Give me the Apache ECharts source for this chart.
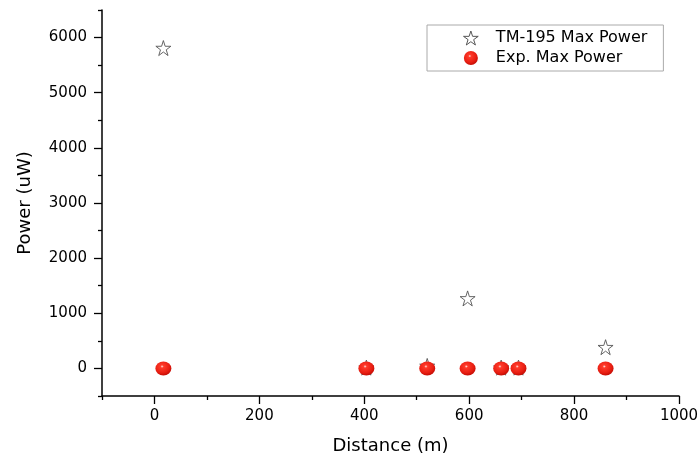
<!DOCTYPE html>
<html><head><meta charset="utf-8">
<script src="https://cdn.jsdelivr.net/npm/echarts@6/dist/echarts.min.js"></script>
<style>html,body{margin:0;padding:0;background:#fff}#c{width:700px;height:459px}</style>
</head><body><div id="c"></div>
<script>
const distances = [17, 404, 520, 597, 661, 694, 860];
const tmPower = [5810, 15, 45, 1270, 15, 15, 385];
const expPower = [0, 0, 0, 0, 0, 0, 0];
const xMajor = [0, 200, 400, 600, 800, 1000];
const xMinor = [-100, 100, 300, 500, 700, 900];
const yMajor = [0, 1000, 2000, 3000, 4000, 5000, 6000];
const yMinor = [-500, 500, 1500, 2500, 3500, 4500, 5500, 6500];
const names = ['TM-195 Max Power', 'Exp. Max Power'];

const starPath = 'path://M100 0 L122.45 69.1 L195.1 69.1 L136.3 111.8 L158.8 180.9 L100 138.2 L41.2 180.9 L63.7 111.8 L4.9 69.1 L77.55 69.1 Z';
const ball = {
  type: 'radial', x: 0.42, y: 0.36, r: 0.65,
  colorStops: [{offset: 0, color: '#ffe6e0'}, {offset: 0.16, color: '#ff3a2a'}, {offset: 0.7, color: '#e81e12'}, {offset: 1, color: '#c40c04'}]
};
const font = 'DejaVu Sans, sans-serif';
const grid = {left: 102, right: 21, top: 10, bottom: 63, outerBoundsMode: 'none', containLabel: false};
const axLine = {show: true, onZero: false, lineStyle: {color: '#000', width: 1.5}};
const noLine = {show: false, onZero: false};
const plain = v => String(v);

const chart = echarts.init(document.getElementById('c'));
chart.setOption({
  animation: false,
  grid: grid,
  legend: {
    orient: 'vertical', left: 427, top: 25,
    padding: [5, 16, 5, 36],
    borderColor: '#aaa', borderWidth: 1,
    itemGap: 4, itemWidth: 16, itemHeight: 14,
    textStyle: {fontFamily: font, fontSize: 16, color: '#000', padding: [0, 0, 0, 12]},
    data: [
      {name: names[0], icon: starPath, itemStyle: {color: '#fff', borderColor: '#555', borderWidth: 1, opacity: 1}},
      {name: names[1], icon: 'circle', itemStyle: {color: ball, opacity: 1}}
    ]
  },
  xAxis: [{
    type: 'value', min: -100, max: 1000,
    name: 'Distance (m)', nameLocation: 'middle', nameGap: 41,
    nameTextStyle: {fontFamily: font, fontSize: 18, color: '#000'},
    axisLine: axLine,
    axisTick: {show: true, customValues: xMajor, length: 8, inside: false, lineStyle: {color: '#000', width: 1.3}},
    axisLabel: {customValues: xMajor, formatter: plain, fontFamily: font, fontSize: 15, color: '#000', margin: 13},
    splitLine: {show: false}
  }, {
    type: 'value', min: -100, max: 1000, position: 'bottom',
    axisLine: noLine,
    axisTick: {show: true, customValues: xMinor, length: 4, lineStyle: {color: '#000', width: 1.3}},
    axisLabel: {show: false}, splitLine: {show: false}
  }],
  yAxis: [{
    type: 'value', min: -500, max: 6500,
    name: 'Power (uW)', nameLocation: 'middle', nameGap: 68,
    nameTextStyle: {fontFamily: font, fontSize: 18, color: '#000'},
    axisLine: axLine,
    axisTick: {show: true, customValues: yMajor, length: 8, lineStyle: {color: '#000', width: 1.3}},
    axisLabel: {customValues: yMajor, formatter: plain, fontFamily: font, fontSize: 15, color: '#000', margin: 15},
    splitLine: {show: false}
  }, {
    type: 'value', min: -500, max: 6500, position: 'left',
    axisLine: noLine,
    axisTick: {show: true, customValues: yMinor, length: 4, lineStyle: {color: '#000', width: 1.3}},
    axisLabel: {show: false}, splitLine: {show: false}
  }],
  series: [{
    name: names[0], type: 'scatter', symbol: starPath, symbolSize: 15,
    itemStyle: {color: '#fff', borderColor: '#555', borderWidth: 0.9, opacity: 1},
    data: distances.map((d, i) => [d, tmPower[i]])
  }, {
    name: names[1], type: 'scatter', symbol: 'circle', symbolSize: [16, 14],
    itemStyle: {color: ball, opacity: 1},
    data: distances.map((d, i) => [d, expPower[i]])
  }]
});
</script></body></html>
